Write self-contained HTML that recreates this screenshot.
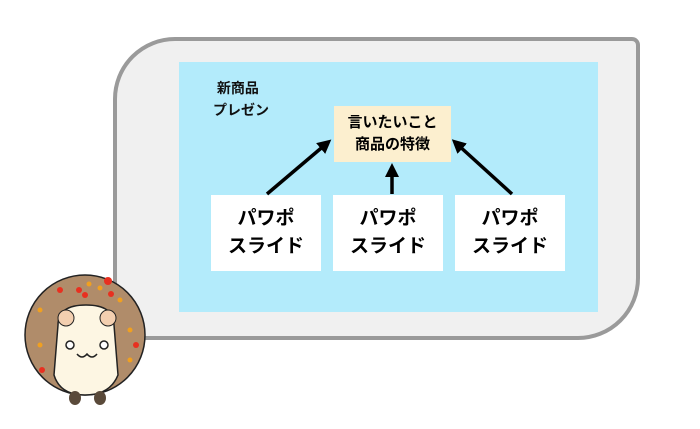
<!DOCTYPE html>
<html><head><meta charset="utf-8"><style>
body{margin:0;width:700px;height:429px;background:#fff;overflow:hidden;position:relative;font-family:"Liberation Sans","Noto Sans CJK JP",sans-serif;}
.outer{position:absolute;left:113px;top:37px;width:519px;height:295px;background:#f0f0f0;border:4px solid #9a9a9a;border-radius:62px 8px 62px 0;}
.blue{position:absolute;left:179px;top:62px;width:419px;height:250px;background:#b3ebfb;}
.t{position:absolute;font-weight:bold;color:#111;text-align:center;}
.w{position:absolute;top:195px;width:110px;height:76px;background:#fff;font-size:19px;line-height:28px;font-weight:bold;text-align:center;display:flex;align-items:center;justify-content:center;}
.y{position:absolute;left:334px;top:106px;width:117px;height:56px;background:#fcefcf;font-size:15px;font-weight:bold;line-height:22px;display:flex;align-items:center;justify-content:center;text-align:center;}
</style></head><body>
<div class="outer"></div>
<div class="blue"></div>
<div class="t" style="left:213px;top:77px;font-size:14px;line-height:22px;text-align:left;">&nbsp;新商品<br>プレゼン</div>
<div class="y">言いたいこと<br>商品の特徴</div>
<div class="w" style="left:211px">パワポ<br>スライド</div>
<div class="w" style="left:333px">パワポ<br>スライド</div>
<div class="w" style="left:455px">パワポ<br>スライド</div>
<svg style="position:absolute;left:0;top:0" width="700" height="429">
<defs><marker id="a" markerWidth="4" markerHeight="4" refX="2" refY="2" orient="auto"><path d="M0,0L4,2L0,4z" fill="#000"/></marker></defs>
<g stroke="#000" stroke-width="3.5" fill="none" marker-end="url(#a)">
<line x1="267" y1="194" x2="326" y2="144"/>
<line x1="392" y1="194" x2="392" y2="170"/>
<line x1="512" y1="194" x2="457" y2="144"/>
</g>
<circle cx="85" cy="335" r="60" fill="#b08c6a" stroke="#222" stroke-width="1.5"/>
<g fill="#e83020"><circle cx="108" cy="281" r="4"/><circle cx="79" cy="290" r="3"/><circle cx="85" cy="295" r="3"/><circle cx="60" cy="290" r="3"/><circle cx="111" cy="294" r="3"/><circle cx="42" cy="370" r="3"/><circle cx="136" cy="345" r="3"/></g>
<g fill="#f0a020"><circle cx="89" cy="284" r="2.5"/><circle cx="100" cy="288" r="2.5"/><circle cx="120" cy="300" r="2.5"/><circle cx="40" cy="310" r="2.5"/><circle cx="130" cy="330" r="2.5"/><circle cx="40" cy="345" r="2.5"/><circle cx="130" cy="360" r="2.5"/></g>
<path d="M58,325 Q58,305 86,305 Q114,305 114,325 L118,375 Q110,395 85,395 Q60,395 54,375 Z" fill="#fdf6e3" stroke="#222" stroke-width="1.5"/>
<circle cx="66" cy="318" r="8" fill="#f3cfb0" stroke="#222"/><circle cx="108" cy="318" r="8" fill="#f3cfb0" stroke="#222"/>
<circle cx="70" cy="345" r="4" fill="#fff" stroke="#222" stroke-width="1.5"/><circle cx="104" cy="345" r="4" fill="#fff" stroke="#222" stroke-width="1.5"/>
<path d="M77,354 q5,6 10,0 q5,6 10,0" fill="none" stroke="#222" stroke-width="1.5"/>
<ellipse cx="75" cy="398" rx="6" ry="7" fill="#5a4a3a"/><ellipse cx="100" cy="398" rx="6" ry="7" fill="#5a4a3a"/>
</svg>
</body></html>
